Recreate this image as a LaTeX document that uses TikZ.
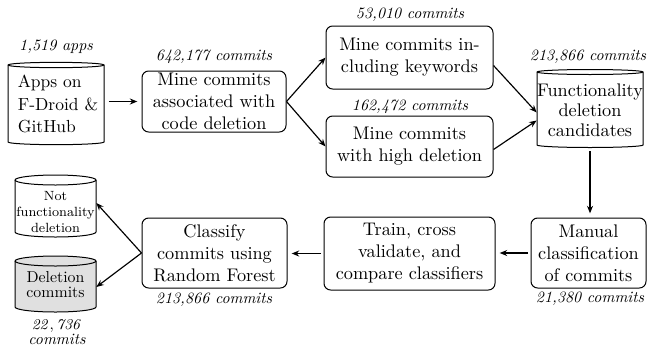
\documentclass[tikz,border=0pt]{standalone}
\usetikzlibrary{calc,arrows.meta}
\newcommand{\drawcyl}[7][white]{%
  \filldraw[cylline, fill=#1] (#2,#4) -- (#2,#5) arc[start angle=180,end angle=360,x radius=#6,y radius=#7] -- (#3,#4) arc[start angle=0,end angle=180,x radius=#6,y radius=#7] -- cycle;
  \draw[cylline] (#3,#4) arc[start angle=0,end angle=-180,x radius=#6,y radius=#7];
}
\begin{document}
\begin{tikzpicture}[x=0.6pt,y=-0.6pt,
  box/.style={draw, rounded corners=4pt, line width=0.6pt, align=center, inner sep=0pt, font=\fontsize{10.95}{13.2}\selectfont},
  lbl/.style={font=\fontsize{9.5}{11}\selectfont\itshape, inner sep=0pt},
  conn/.style={-{Stealth[length=4.5pt,width=3.6pt]}, line width=0.7pt},
  gap/.style={shorten >=2.5pt, shorten <=1.5pt},
  cyltxt/.style={inner sep=0pt, align=center},
  cylline/.style={line width=0.6pt}
]
\useasboundingbox (0,0) rectangle (647,345);

% cylinders
\drawcyl{8}{104}{65}{142}{28.8pt}{1.6pt}
\drawcyl{537}{643}{72}{145}{31.8pt}{1.5pt}
\drawcyl{15}{96}{180}{232}{24.3pt}{3pt}
\drawcyl[black!12]{15}{96}{261}{307}{24.3pt}{3pt}

\node[cyltxt, align=left, font=\fontsize{10.5}{13.5}\selectfont, minimum width=57.6pt, minimum height=46pt] (apps) at (58,104) {Apps on\\F-Droid \&\\GitHub};
\node[cyltxt, font=\fontsize{10.95}{12}\selectfont, minimum width=63.6pt, minimum height=45.6pt] (cand) at (590,110.5) {Functionality\\deletion\\candidates};
\node[cyltxt, font=\fontsize{8}{9.8}\selectfont, minimum width=48.6pt, minimum height=30pt] (nf) at (55.5,212) {Not\\functionality\\deletion};
\node[cyltxt, font=\fontsize{9.5}{9}\selectfont, minimum width=48.6pt, minimum height=28pt] (del) at (55.5,285) {Deletion\\commits};

% boxes
\node[box, minimum width=86.4pt, minimum height=36.6pt] (mine) at (214,101.5) {Mine commits\\associated with\\code deletion};
\node[box, minimum width=100.2pt, minimum height=37.8pt] (kw) at (409.5,57.5) {Mine commits in-\\cluding keywords};
\node[box, minimum width=100.2pt, minimum height=36.6pt] (hd) at (409.5,146.5) {Mine commits\\with high deletion};
\node[box, minimum width=69pt, minimum height=42pt] (manual) at (588.5,253) {Manual\\classification\\of commits};
\node[box, minimum width=102.6pt, minimum height=43.8pt] (train) at (409.5,253.5) {Train, cross\\validate, and\\compare classifiers};
\node[box, minimum width=87pt, minimum height=42pt] (classify) at (214.5,253) {Classify\\commits using\\Random Forest};

% labels
\node[lbl] (l1) at (56,47) {1,519 apps};
\node[lbl] (l2) at (214,57) {642,177 commits};
\node[lbl] (l3) at (410,15) {53,010 commits};
\node[lbl] (l4) at (410,107) {162,472 commits};
\node[lbl] (l5) at (588,57) {213,866 commits};
\node[lbl] (l6) at (590,299) {21,380 commits};
\node[lbl] (l7) at (214,300) {213,866 commits};
\node[lbl, align=center, font=\fontsize{9.5}{9}\selectfont\itshape] (l8) at (57,332) {$\mathit{22,736}$\\commits};

% connectors
\draw[conn, gap] (apps.east |- mine.west) -- (mine.west);
\draw[conn] (mine.east) -- (kw.west);
\draw[conn] (mine.east) -- (hd.west);
\draw[conn] ($(kw.east)+(0,8)$) -- ($(cand.west)+(0,2)$);
\draw[conn] ($(hd.east)+(0,3)$) -- ($(cand.west)+(0,10)$);
\draw[conn, gap] (cand.south) -- (cand.south |- manual.north);
\draw[conn, gap] (manual.west) -- (manual.west -| train.east);
\draw[conn, gap] (train.west) -- (train.west -| classify.east);
\draw[conn] (classify.west) -- ($(nf.east)+(0,-9)$);
\draw[conn] (classify.west) -- ($(del.east)+(0,2)$);
\end{tikzpicture}
\end{document}
